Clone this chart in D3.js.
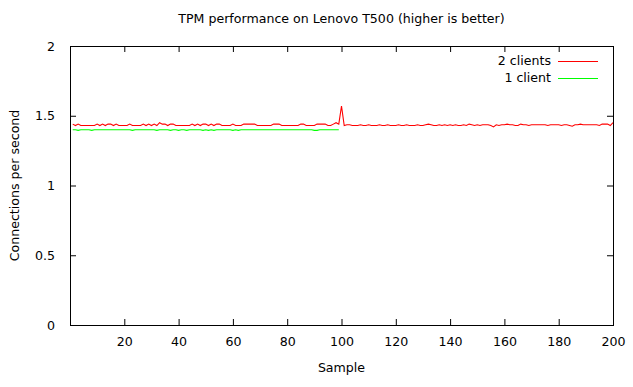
<!DOCTYPE html>
<html><head><meta charset="utf-8">
<script src="https://cdn.jsdelivr.net/npm/d3@7"></script>
<style>body{margin:0;background:#fff}svg{display:block}text{font-family:"DejaVu Sans",sans-serif;font-size:12.6px;fill:#000}</style>
</head><body>
<script>
const title = "TPM performance on Lenovo T500 (higher is better)";
const xLabel = "Sample";
const yLabel = "Connections per second";
const seriesNames = ["2 clients", "1 client"];
const seriesColors = ["#ff0000", "#00ff00"];
const xTicks = [20,40,60,80,100,120,140,160,180,200];
const yTicks = [0,0.5,1,1.5,2];
const twoClients = [
1.44,1.43,1.44,1.43,1.43,1.43,1.43,1.43,1.43,1.44, 1.43,1.44,1.43,1.44,1.44,1.43,1.44,1.43,1.43,1.43,
1.43,1.44,1.43,1.43,1.43,1.43,1.44,1.43,1.44,1.43, 1.44,1.43,1.45,1.44,1.44,1.43,1.44,1.44,1.43,1.43,
1.43,1.43,1.43,1.43,1.44,1.43,1.44,1.43,1.44,1.44, 1.43,1.44,1.43,1.44,1.44,1.43,1.43,1.43,1.43,1.44,
1.43,1.43,1.43,1.44,1.44,1.44,1.44,1.44,1.43,1.43, 1.43,1.43,1.43,1.43,1.44,1.44,1.44,1.43,1.43,1.43,
1.43,1.43,1.43,1.43,1.44,1.44,1.43,1.43,1.43,1.43, 1.44,1.44,1.44,1.44,1.43,1.43,1.44,1.45,1.44,1.57,
1.43,1.435,1.435,1.43,1.43,1.43,1.435,1.43,1.43,1.435, 1.43,1.43,1.43,1.435,1.43,1.43,1.435,1.43,1.43,1.43,
1.435,1.43,1.43,1.435,1.43,1.43,1.43,1.435,1.43,1.43, 1.435,1.44,1.435,1.43,1.43,1.435,1.43,1.435,1.43,1.435,
1.43,1.435,1.43,1.43,1.435,1.43,1.44,1.435,1.43,1.435, 1.43,1.435,1.435,1.435,1.43,1.42,1.435,1.43,1.435,1.435,
1.44,1.435,1.435,1.43,1.43,1.44,1.435,1.435,1.43,1.435, 1.435,1.435,1.435,1.435,1.435,1.43,1.435,1.435,1.435,1.435,
1.43,1.435,1.435,1.43,1.425,1.435,1.435,1.44,1.435,1.435, 1.435,1.435,1.435,1.435,1.43,1.44,1.44,1.44,1.43,1.45
];
const oneClient = [
1.40,1.40,1.395,1.40,1.40,1.40,1.40,1.395,1.40,1.40, 1.40,1.40,1.40,1.40,1.40,1.40,1.40,1.40,1.40,1.40,
1.40,1.40,1.395,1.40,1.40,1.40,1.40,1.40,1.40,1.40, 1.40,1.395,1.40,1.40,1.40,1.40,1.395,1.40,1.40,1.395,
1.40,1.40,1.395,1.40,1.40,1.40,1.40,1.40,1.395,1.40, 1.395,1.40,1.395,1.40,1.40,1.40,1.40,1.40,1.40,1.395,
1.40,1.395,1.40,1.40,1.40,1.40,1.40,1.40,1.40,1.40, 1.40,1.40,1.40,1.40,1.40,1.40,1.40,1.40,1.40,1.40,
1.40,1.40,1.40,1.40,1.40,1.40,1.40,1.40,1.40,1.395, 1.395,1.40,1.40,1.40,1.40,1.40,1.40,1.40,1.40
];

const W = 633, H = 387;
const m = {l:70, r:20, t:46, b:62};
const svg = d3.select("body").append("svg").attr("width", W).attr("height", H);
const x = d3.scaleLinear().domain([0,200]).range([m.l, W-m.r]);
const y = d3.scaleLinear().domain([0,2]).range([H-m.b, m.t]);

const tl = 6;
const fixText = g=>{g.select(".domain").remove();g.selectAll("text").attr("font-size",12.6).attr("font-family","DejaVu Sans");};
svg.append("g").attr("transform",`translate(0,${H-m.b})`)
  .call(d3.axisBottom(x).tickValues(xTicks).tickSize(-tl).tickPadding(tl+6)).call(fixText);
svg.append("g").attr("transform",`translate(0,${m.t})`)
  .call(d3.axisTop(x).tickValues(xTicks).tickSize(-tl).tickFormat(""))
  .call(g=>g.select(".domain").remove());
svg.append("g").attr("transform",`translate(${m.l},0)`)
  .call(d3.axisLeft(y).tickValues(yTicks).tickSize(-tl).tickPadding(tl+9).tickFormat(d3.format(""))).call(fixText);
svg.append("g").attr("transform",`translate(${W-m.r},0)`)
  .call(d3.axisRight(y).tickValues(yTicks).tickSize(-tl).tickFormat(""))
  .call(g=>g.select(".domain").remove());

svg.append("rect").attr("x",m.l+0.5).attr("y",m.t+0.5).attr("width",W-m.r-m.l).attr("height",H-m.b-m.t)
  .attr("fill","none").attr("stroke","#000");

const line = d3.line().x((d,i)=>x(i+1)).y(d=>y(d));
[twoClients, oneClient].forEach((s,k)=>{
  svg.append("path").datum(s).attr("d",line).attr("fill","none")
    .attr("stroke",seriesColors[k]).attr("stroke-width",1.1);
});

seriesNames.forEach((n,k)=>{
  const ly = 61 + k*17;
  svg.append("text").attr("x",551).attr("y",ly).attr("dy","0.35em").attr("text-anchor","end").text(n);
  svg.append("line").attr("x1",558).attr("x2",598).attr("y1",ly+0.5).attr("y2",ly+0.5)
    .attr("stroke",seriesColors[k]).attr("stroke-width",1.1);
});

svg.append("text").attr("x",(m.l+W-m.r)/2).attr("y",23).attr("text-anchor","middle").text(title);
svg.append("text").attr("x",(m.l+W-m.r)/2).attr("y",372).attr("text-anchor","middle").text(xLabel);
svg.append("text").attr("transform",`translate(19,${(m.t+H-m.b)/2}) rotate(-90)`).attr("text-anchor","middle").text(yLabel);
</script>
</body></html>
